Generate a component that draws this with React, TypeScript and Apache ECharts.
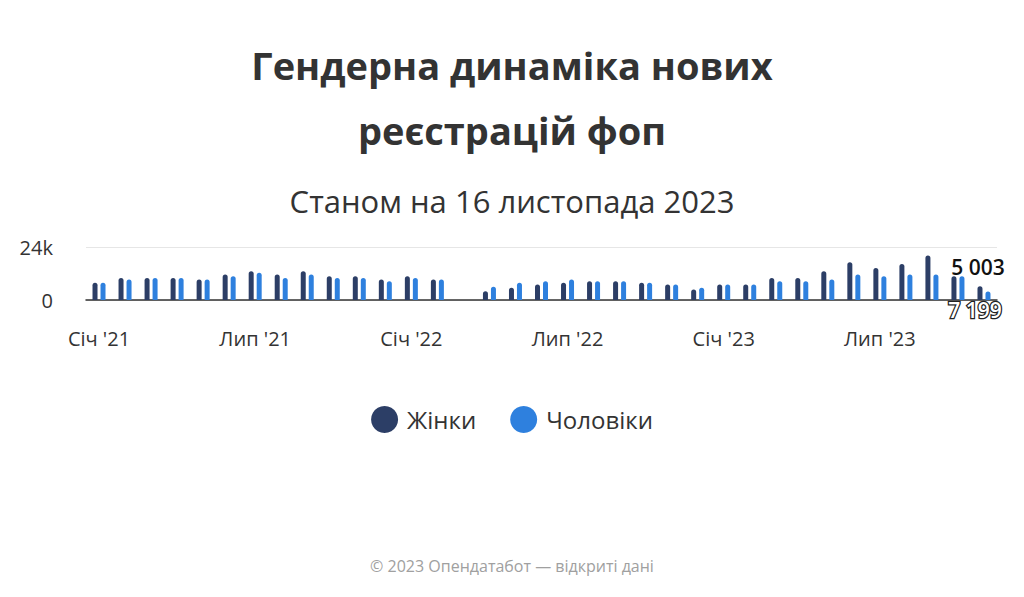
import { useEffect, useRef } from "react";
import * as echarts from "echarts";

const months = [
  "Січ '21", "Лют '21", "Бер '21", "Кві '21", "Тра '21", "Чер '21",
  "Лип '21", "Сер '21", "Вер '21", "Жов '21", "Лис '21", "Гру '21",
  "Січ '22", "Лют '22", "Бер '22", "Кві '22", "Тра '22", "Чер '22",
  "Лип '22", "Сер '22", "Вер '22", "Жов '22", "Лис '22", "Гру '22",
  "Січ '23", "Лют '23", "Бер '23", "Кві '23", "Тра '23", "Чер '23",
  "Лип '23", "Сер '23", "Вер '23", "Жов '23", "Лис '23",
];

const women = [
  7800, 10000, 10000, 10000, 9300, 11500, 13000, 11500, 13000, 10800, 10800, 9300,
  10800, 9300, null, 4000, 5500, 7000, 7800, 8500, 8500, 7800, 7000, 4800,
  7000, 7000, 10000, 10000, 13000, 17100, 14500, 16300, 20100, 10800, 6200,
];

const men = [
  7800, 9300, 10000, 10000, 9300, 10800, 12300, 10000, 11500, 10000, 10000, 8500,
  10000, 9300, null, 6000, 7800, 8500, 9300, 8500, 8500, 7800, 7000, 5500,
  7000, 7000, 8500, 8500, 9300, 11500, 10800, 11500, 11500, 10800, 3900,
];

// labels shown on the last month, as in the original
const lastLabels = { women: "7 199", men: "5 003" };

const DARK = "#2c3e66";
const LIGHT = "#2e80de";
const FONT = "'Open Sans', 'Noto Sans', sans-serif";

function withLastLabel(values: (number | null)[], label: object) {
  return values.map((v, i) =>
    i === values.length - 1 ? { value: v, label } : v,
  );
}

export default function App() {
  const ref = useRef<HTMLDivElement>(null);

  useEffect(() => {
    document.body.style.margin = "0";
    if (!ref.current) return;
    const chart = echarts.init(ref.current, undefined, { renderer: "svg" });

    chart.setOption({
      animation: false,
      backgroundColor: "#fff",
      textStyle: { fontFamily: FONT },
      title: [
        {
          text: "Гендерна динаміка нових\nреєстрацій фоп",
          left: "center",
          top: 27,
          textStyle: {
            fontFamily: FONT,
            fontSize: 38,
            fontWeight: "bold",
            color: "#333",
            lineHeight: 65,
          },
        },
        {
          text: "Станом на 16 листопада 2023",
          left: "center",
          top: 176,
          textStyle: {
            fontFamily: FONT,
            fontSize: 31,
            fontWeight: "normal",
            color: "#333",
            lineHeight: 40,
          },
        },
        {
          text: "© 2023 Опендатабот — відкриті дані",
          left: "center",
          top: 553,
          textStyle: {
            fontFamily: FONT,
            fontSize: 16,
            fontWeight: "normal",
            color: "#a0a0a0",
          },
        },
      ],
      legend: {
        top: 401,
        left: "center",
        icon: "circle",
        itemWidth: 27,
        itemHeight: 27,
        itemGap: 34,
        textStyle: {
          fontFamily: FONT,
          fontSize: 24,
          color: "#333",
          padding: [0, 0, 0, 4],
        },
        data: ["Жінки", "Чоловіки"],
      },
      grid: { left: 86, right: 27, top: 247, bottom: 297 },
      xAxis: {
        type: "category",
        data: months,
        axisLine: { lineStyle: { color: "#333", width: 1.5 } },
        axisTick: { show: false },
        axisLabel: {
          interval: 5,
          margin: 28,
          fontSize: 20,
          color: "#333",
          fontFamily: FONT,
        },
      },
      yAxis: {
        type: "value",
        min: 0,
        max: 24000,
        interval: 24000,
        axisLabel: {
          margin: 33,
          fontSize: 20,
          color: "#333",
          fontFamily: FONT,
          formatter: (v: number) => (v === 0 ? "0" : `${v / 1000}k`),
        },
        splitLine: { lineStyle: { color: "#e6e6e6" } },
      },
      series: [
        {
          name: "Жінки",
          type: "bar",
          barWidth: 5,
          barGap: "60%",
          itemStyle: { color: DARK, borderRadius: [3, 3, 0, 0] },
          data: withLastLabel(women, {
            show: true,
            position: "bottom",
            distance: 0,
            offset: [-5, -1],
            formatter: lastLabels.women,
            fontFamily: FONT,
            fontSize: 21,
            fontWeight: 600,
            color: "#fff",
            textBorderColor: "#222",
            textBorderWidth: 2.5,
          }),
        },
        {
          name: "Чоловіки",
          type: "bar",
          barWidth: 5,
          itemStyle: { color: LIGHT, borderRadius: [3, 3, 0, 0] },
          data: withLastLabel(men, {
            show: true,
            position: "top",
            distance: 14,
            offset: [-10, 0],
            formatter: lastLabels.men,
            fontFamily: FONT,
            fontSize: 21,
            fontWeight: 600,
            color: "#111",
            textBorderColor: "#fff",
            textBorderWidth: 2,
          }),
        },
      ],
    });

    return () => chart.dispose();
  }, []);

  return <div ref={ref} style={{ width: 1024, height: 597 }} />;
}
